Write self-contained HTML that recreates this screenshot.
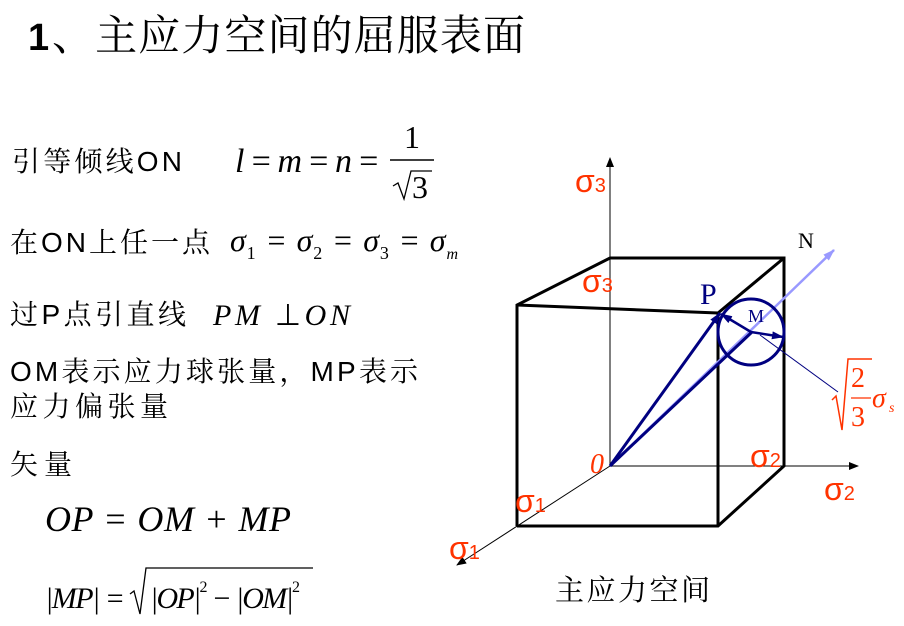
<!DOCTYPE html>
<html><head><meta charset="utf-8"><style>
html,body{margin:0;padding:0;background:#fff;width:904px;height:626px;overflow:hidden}
svg{display:block}
.cj{font-family:"Liberation Sans","Noto Serif CJK SC",serif;font-size:28px;fill:#000}
.m{font-family:"Liberation Serif",serif;font-style:italic;fill:#000}
.r{font-family:"Liberation Serif",serif;fill:#ff3300}
.s{font-family:"Liberation Sans",sans-serif;fill:#ff3300;font-size:32px}
</style></head><body>
<svg width="904" height="626" viewBox="0 0 904 626" xmlns="http://www.w3.org/2000/svg">
<defs>
<marker id="a" markerWidth="10" markerHeight="8" refX="9" refY="4" orient="auto" markerUnits="userSpaceOnUse"><path d="M0,0 L10,4 L0,8 z" fill="#000"/></marker>
<marker id="b" markerWidth="12" markerHeight="8" refX="11" refY="4" orient="auto" markerUnits="userSpaceOnUse"><path d="M0,0 L12,4 L0,8 z" fill="#000080"/></marker>
<marker id="c" markerWidth="12" markerHeight="8" refX="11" refY="4" orient="auto" markerUnits="userSpaceOnUse"><path d="M0,0 L12,4 L0,8 z" fill="#9999ff"/></marker>
</defs>
<text x="28" y="50" font-family="Liberation Sans,sans-serif" font-weight="bold" font-size="38">1</text>
<text x="52" y="50" font-family="'Liberation Serif','Noto Serif CJK SC',serif" font-size="42" textLength="473">、主应力空间的屈服表面</text>

<text class="cj" x="12" y="171" textLength="170">引等倾线ON</text>
<text class="m" x="235" y="172" font-size="34" textLength="145">l = m = n =</text>
<text x="404" y="148" font-family="Liberation Serif,serif" font-size="32">1</text>
<line x1="390" y1="160" x2="434" y2="160" stroke="#000" stroke-width="1.5"/>
<path d="M393,186 L398,183 L404,199 L411,171 L432,171" fill="none" stroke="#000" stroke-width="1.3"/>
<text x="412" y="198" font-family="Liberation Serif,serif" font-size="32">3</text>

<text class="cj" x="10" y="252" textLength="200">在ON上任一点</text>
<text class="m" x="230" y="251" font-size="32" textLength="228">σ<tspan font-size="18" font-style="normal" dy="8">1</tspan><tspan dy="-8"> = σ</tspan><tspan font-size="18" font-style="normal" dy="8">2</tspan><tspan dy="-8"> = σ</tspan><tspan font-size="18" font-style="normal" dy="8">3</tspan><tspan dy="-8"> = σ</tspan><tspan font-size="16" dy="8">m</tspan></text>

<text class="cj" x="10" y="324" textLength="176">过P点引直线</text>
<text class="m" x="213" y="325" font-size="30" textLength="137">PM <tspan font-style="normal">⊥</tspan>ON</text>

<text class="cj" x="10" y="381" textLength="408">OM表示应力球张量，MP表示</text>
<text class="cj" x="10" y="416" textLength="158">应力偏张量</text>
<text class="cj" x="10" y="474" textLength="62">矢量</text>
<text class="m" x="45" y="531" font-size="36" textLength="246">OP = OM + MP</text>
<text class="m" x="45" y="608" font-size="30" textLength="80">|MP| =</text>
<path d="M130,594 L134,591 L140,614 L146,568 L313,568" fill="none" stroke="#000" stroke-width="1.3"/>
<text class="m" x="150" y="608" font-size="30" textLength="150">|OP|<tspan font-size="16" font-style="normal" dy="-16">2</tspan><tspan dy="16"> − |OM|</tspan><tspan font-size="16" font-style="normal" dy="-16">2</tspan></text>

<line x1="610" y1="466" x2="610" y2="158" stroke="#000" stroke-width="1" marker-end="url(#a)"/>
<line x1="610" y1="466" x2="858" y2="466" stroke="#000" stroke-width="1" marker-end="url(#a)"/>
<line x1="610" y1="466" x2="457" y2="565" stroke="#000" stroke-width="1" marker-end="url(#a)"/>
<g stroke="#000" stroke-width="3" fill="none">
<polyline points="517,526 517,305 610,258 784,258 784,466 718,526 517,526"/>
<line x1="517" y1="305" x2="718" y2="313"/>
<line x1="718" y1="313" x2="718" y2="526"/>
<line x1="718" y1="313" x2="784" y2="258"/>
</g>
<line x1="610" y1="466" x2="834" y2="250" stroke="#9999ff" stroke-width="2.5" marker-end="url(#c)"/>
<circle cx="751" cy="332" r="33" fill="none" stroke="#000080" stroke-width="3"/>
<line x1="610" y1="466" x2="720" y2="313" stroke="#000080" stroke-width="3" marker-end="url(#b)"/>
<line x1="610" y1="466" x2="752" y2="332" stroke="#000080" stroke-width="3"/>
<line x1="751" y1="332" x2="721" y2="314" stroke="#000080" stroke-width="2.5" marker-end="url(#b)"/>
<line x1="751" y1="332" x2="783" y2="337" stroke="#000080" stroke-width="2.5" marker-end="url(#b)"/>
<line x1="760" y1="335" x2="838" y2="392" stroke="#000080" stroke-width="1"/>
<text x="700" y="304" font-family="Liberation Serif,serif" font-size="30" fill="#000080">P</text>
<text x="748" y="322" font-family="Liberation Serif,serif" font-size="18" fill="#000080">M</text>
<text x="798" y="248" font-family="Liberation Serif,serif" font-size="22">N</text>
<text class="s" x="575" y="192">σ<tspan font-size="20">3</tspan></text>
<text class="s" x="582" y="292">σ<tspan font-size="20">3</tspan></text>
<text class="s" x="750" y="467">σ<tspan font-size="20">2</tspan></text>
<text class="s" x="824" y="500">σ<tspan font-size="20">2</tspan></text>
<text class="s" x="515" y="512">σ<tspan font-size="20">1</tspan></text>
<text class="s" x="449" y="559">σ<tspan font-size="20">1</tspan></text>
<text x="590" y="473" font-family="Liberation Serif,serif" font-style="italic" font-size="28" fill="#ff3300">0</text>
<path d="M832,400 L836,396 L842,430 L848,359 L872,359" fill="none" stroke="#ff3300" stroke-width="1.5"/>
<text class="r" x="851" y="387" font-size="28">2</text>
<line x1="851" y1="398" x2="871" y2="398" stroke="#ff3300" stroke-width="1.3"/>
<text class="r" x="851" y="426" font-size="28">3</text>
<text class="r" x="872" y="407" font-size="28" font-style="italic">σ</text>
<text class="r" x="889" y="412" font-size="14" font-style="italic">s</text>
<text x="555" y="600" font-family="'Liberation Serif','Noto Serif CJK SC',serif" font-size="29" textLength="155">主应力空间</text>
</svg>
</body></html>
